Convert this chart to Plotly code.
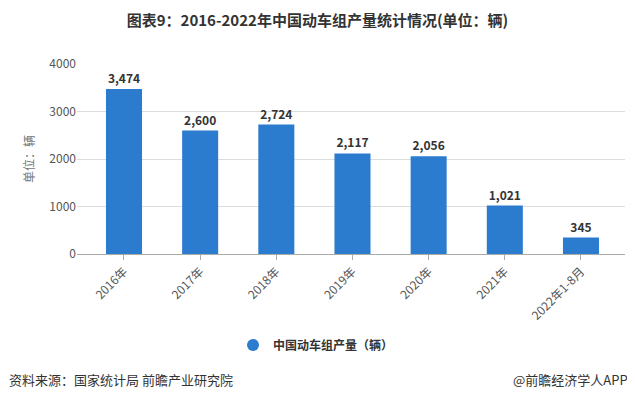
import plotly.graph_objects as go

categories = ["2016年", "2017年", "2018年", "2019年", "2020年", "2021年", "2022年1-8月"]
values = [3474, 2600, 2724, 2117, 2056, 1021, 345]
series_name = "中国动车组产量（辆）"
y_ticks = [0, 1000, 2000, 3000, 4000]

FONT = "Noto Sans CJK SC, Microsoft YaHei, sans-serif"
BLUE = "#2b7bcf"

# page body has an 8px default margin; figure is drawn 8px smaller to compensate
OFF = 8
W, H = 635 - OFF, 399 - OFF
PL, PR, PT, PB = 77, 625, 64, 254  # plot area in reference page pixels
PW, PH = PR - PL, PB - PT

fig = go.Figure()
fig.add_trace(go.Bar(
    x=categories, y=values, width=0.473,
    marker=dict(color=BLUE, line=dict(width=0)),
    text=[f"{v:,}" for v in values], textposition="outside",
    textfont=dict(family=FONT, size=12, color="#333333", weight="bold"),
    cliponaxis=False, showlegend=False,
))
fig.add_trace(go.Scatter(
    x=[None], y=[None], mode="markers", name=series_name,
    marker=dict(symbol="circle", size=12, color=BLUE),
))

fig.update_layout(
    width=W, height=H,
    margin=dict(l=PL - OFF, r=W - (PR - OFF), t=PT - OFF, b=H - (PB - OFF)),
    paper_bgcolor="white", plot_bgcolor="white",
    font=dict(family=FONT, color="#555555", size=12),
    title=dict(text="<b>图表9：2016-2022年中国动车组产量统计情况(单位：辆)</b>",
               x=(317.5 - OFF) / W, xanchor="center", y=1 - (21 - OFF) / H, yanchor="middle",
               font=dict(family=FONT, size=15, color="#333333")),
    xaxis=dict(range=[-0.617, 6.578], tickangle=-45, showline=True,
               linecolor="#aaaaaa", linewidth=1, ticks="outside", ticklen=5,
               tickcolor="#aaaaaa", tickfont=dict(size=12, color="#555555"),
               showgrid=False, fixedrange=True),
    yaxis=dict(range=[0, 4000], tickvals=y_ticks, showgrid=True,
               gridcolor="#dddddd", gridwidth=1, zeroline=False,
               tickfont=dict(size=12, color="#555555"), ticks="",
               title=dict(text="单位：辆", font=dict(size=12, color="#777777"), standoff=12)),
    legend=dict(orientation="h", x=(316 - PL) / PW, xanchor="center", y=(PB - 345) / PH,
                yanchor="middle", font=dict(size=12, color="#333333", weight="bold"),
                itemsizing="constant"),
    showlegend=True,
)

fig.add_annotation(text="资料来源：国家统计局 前瞻产业研究院", xref="paper", yref="paper",
                   x=(7 - PL) / PW, y=(PB - 379) / PH, xanchor="left", yanchor="middle",
                   showarrow=False, font=dict(size=13, color="#333333"))
fig.add_annotation(text="@前瞻经济学人APP", xref="paper", yref="paper",
                   x=(630 - PL) / PW, y=(PB - 379) / PH, xanchor="right", yanchor="middle",
                   showarrow=False, font=dict(size=13, color="#333333"))

fig.write_html("out.html")
